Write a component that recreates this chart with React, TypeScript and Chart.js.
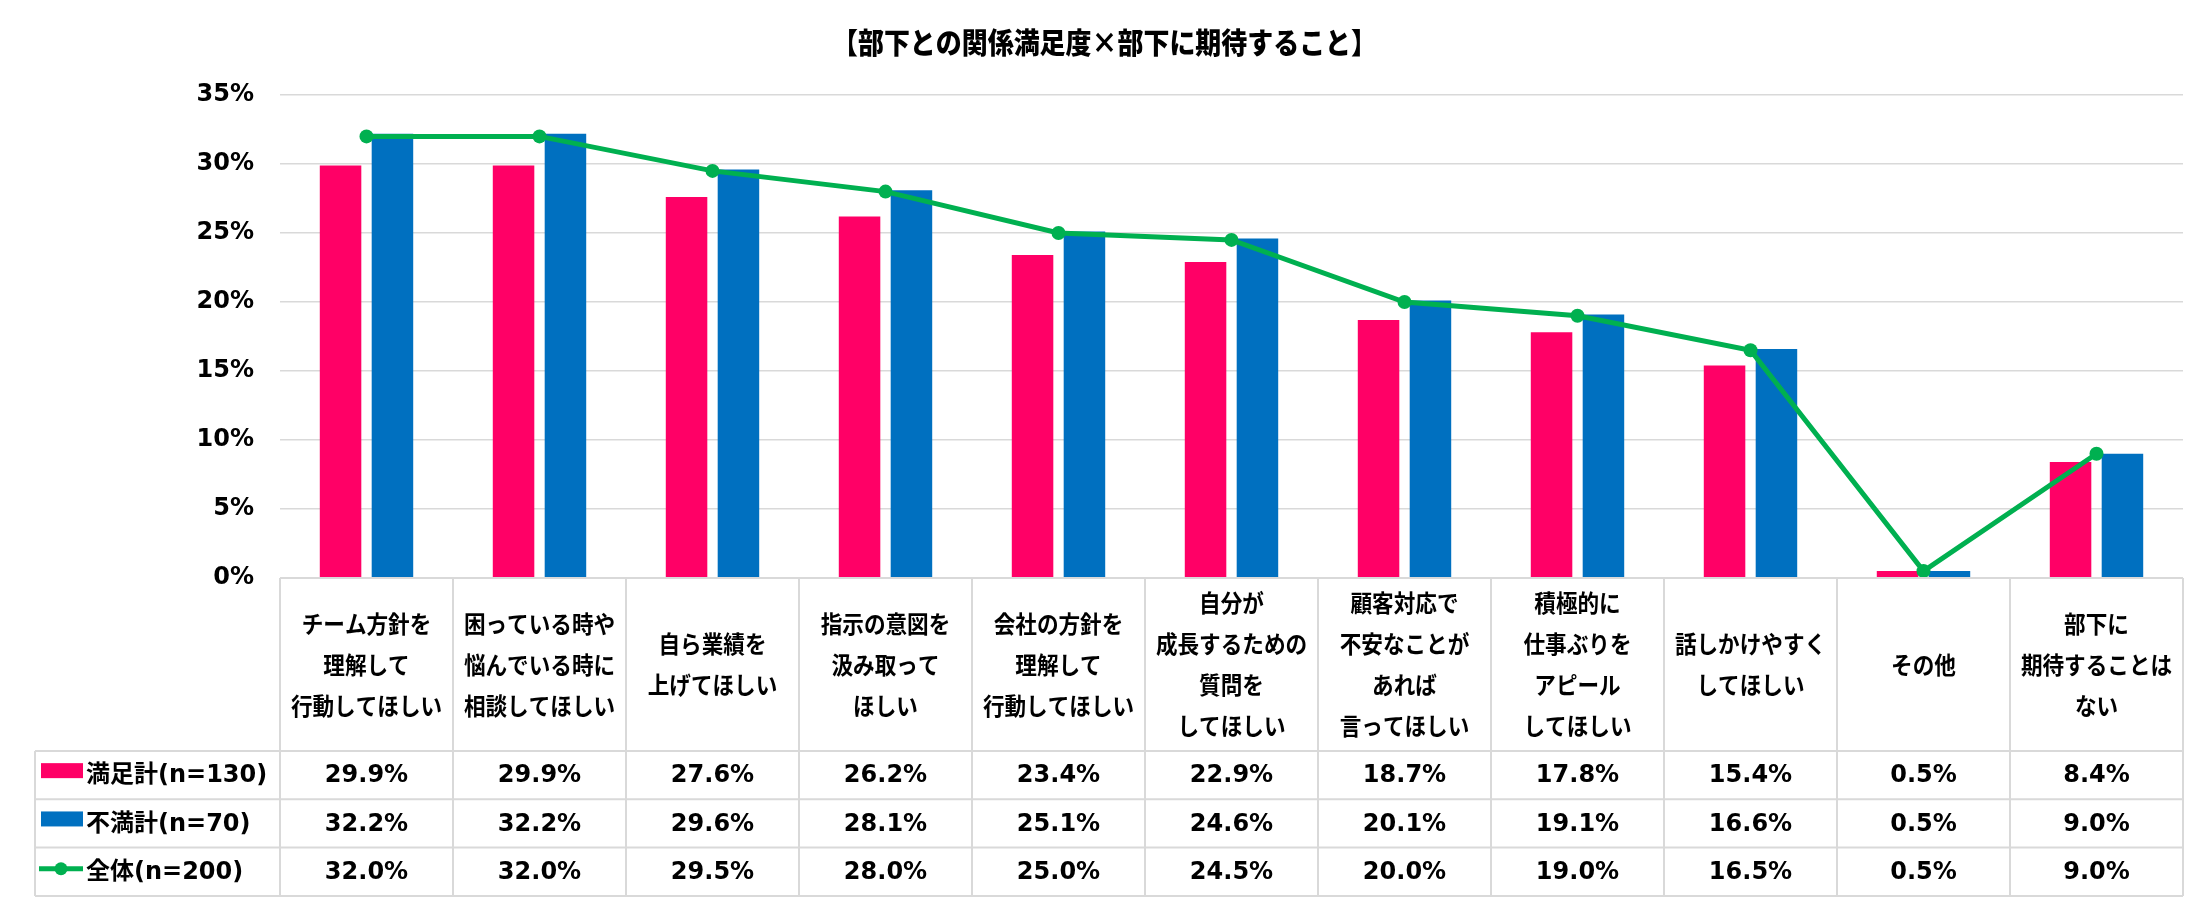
import React, { useEffect, useRef } from "react";
import { Chart, registerables } from "chart.js";

Chart.register(...registerables);

const TITLE = "【部下との関係満足度×部下に期待すること】";

const categories: string[][] = [
  ["チーム方針を", "理解して", "行動してほしい"],
  ["困っている時や", "悩んでいる時に", "相談してほしい"],
  ["自ら業績を", "上げてほしい"],
  ["指示の意図を", "汲み取って", "ほしい"],
  ["会社の方針を", "理解して", "行動してほしい"],
  ["自分が", "成長するための", "質問を", "してほしい"],
  ["顧客対応で", "不安なことが", "あれば", "言ってほしい"],
  ["積極的に", "仕事ぶりを", "アピール", "してほしい"],
  ["話しかけやすく", "してほしい"],
  ["その他"],
  ["部下に", "期待することは", "ない"],
];

const satisfied = [29.9, 29.9, 27.6, 26.2, 23.4, 22.9, 18.7, 17.8, 15.4, 0.5, 8.4];
const dissatisfied = [32.2, 32.2, 29.6, 28.1, 25.1, 24.6, 20.1, 19.1, 16.6, 0.5, 9.0];
const overall = [32.0, 32.0, 29.5, 28.0, 25.0, 24.5, 20.0, 19.0, 16.5, 0.5, 9.0];

const seriesNames = ["満足計(n=130)", "不満計(n=70)", "全体(n=200)"];
const yMin = 0;
const yMax = 35;
const yStep = 5;

const PINK = "#FF0066";
const BLUE = "#0070C0";
const GREEN = "#00B050";
const GRID = "#D9D9D9";

function fillScaled(
  ctx: CanvasRenderingContext2D,
  text: string,
  x: number,
  y: number,
  k: number,
  align: CanvasTextAlign
) {
  ctx.save();
  ctx.translate(x, y);
  ctx.scale(k, 1);
  ctx.textAlign = align;
  ctx.fillText(text, 0, 0);
  ctx.restore();
}

const tablePlugin = {
  id: "dataTable",
  afterDraw(chart: any) {
    const ctx = chart.ctx as CanvasRenderingContext2D;
    const xs = chart.scales.x;
    const area = chart.chartArea;
    const n = categories.length;
    const step = xs.getPixelForValue(1) - xs.getPixelForValue(0);
    const left = xs.getPixelForValue(0) - step / 2;
    const right = xs.getPixelForValue(n - 1) + step / 2;
    const top = area.bottom;
    const headerBottom = top + 173;
    const rowH = 48.3;
    const rowsY = [headerBottom, headerBottom + rowH, headerBottom + 2 * rowH, headerBottom + 3 * rowH];
    const legendLeft = 35;

    ctx.save();
    ctx.textBaseline = "middle";
    // title
    ctx.fillStyle = "#000";
    ctx.font = "900 29px 'Noto Sans CJK JP'";
    const tw = ctx.measureText(TITLE).width;
    fillScaled(ctx, TITLE, chart.width / 2, 43, 545 / tw, "center");

    // grid lines
    ctx.strokeStyle = GRID;
    ctx.lineWidth = 2;
    ctx.beginPath();
    ctx.moveTo(left, top);
    ctx.lineTo(right, top);
    for (let r = 0; r < rowsY.length; r++) {
      ctx.moveTo(legendLeft, rowsY[r]);
      ctx.lineTo(right, rowsY[r]);
    }
    for (let i = 0; i <= n; i++) {
      const x = left + i * step;
      ctx.moveTo(x, top);
      ctx.lineTo(x, rowsY[3]);
    }
    ctx.moveTo(legendLeft, rowsY[0]);
    ctx.lineTo(legendLeft, rowsY[3]);
    ctx.stroke();

    // header labels
    ctx.fillStyle = "#000";
    ctx.font = "bold 24px 'Noto Sans CJK JP'";
    const lh = 41;
    const hc = (top + headerBottom) / 2;
    categories.forEach((lines, i) => {
      const cx = xs.getPixelForValue(i);
      const y0 = hc - ((lines.length - 1) * lh) / 2;
      lines.forEach((t, j) => fillScaled(ctx, t, cx, y0 + j * lh, 0.9, "center"));
    });

    // values
    ctx.font = "bold 24px 'DejaVu Sans', 'Noto Sans CJK JP'";
    ctx.textAlign = "center";
    const all = [satisfied, dissatisfied, overall];
    all.forEach((arr, r) => {
      const cy = rowsY[r] + rowH / 2 + 1;
      arr.forEach((v, i) => {
        ctx.fillText(v.toFixed(1) + "%", xs.getPixelForValue(i), cy);
      });
    });

    // legend cells
    ctx.textAlign = "left";
    seriesNames.forEach((name, r) => {
      const cy = rowsY[r] + rowH / 2;
      if (r < 2) {
        ctx.fillStyle = r === 0 ? PINK : BLUE;
        ctx.fillRect(41, cy - 12, 42, 15);
      } else {
        ctx.strokeStyle = GREEN;
        ctx.lineWidth = 5;
        ctx.beginPath();
        ctx.moveTo(39, cy - 3);
        ctx.lineTo(83, cy - 3);
        ctx.stroke();
        ctx.fillStyle = GREEN;
        ctx.beginPath();
        ctx.arc(61, cy - 3, 6.5, 0, Math.PI * 2);
        ctx.fill();
      }
      ctx.fillStyle = "#000";
      ctx.fillText(name, 86, cy + 1);
    });
    ctx.restore();
  },
};

export default function App() {
  const ref = useRef<HTMLCanvasElement | null>(null);
  useEffect(() => {
    document.body.style.margin = "0";
    const canvas = ref.current!;
    const chart = new Chart(canvas, {
      type: "bar",
      data: {
        labels: categories.map((c) => c.join("")),
        datasets: [
          {
            type: "line",
            label: seriesNames[2],
            data: overall,
            borderColor: GREEN,
            backgroundColor: GREEN,
            borderWidth: 5,
            pointRadius: 7,
            pointBackgroundColor: GREEN,
            pointBorderWidth: 0,
            order: 0,
          } as any,
          {
            type: "bar",
            label: seriesNames[0],
            data: satisfied,
            backgroundColor: PINK,
            categoryPercentage: 0.6,
            barPercentage: 0.8,
            order: 1,
          },
          {
            type: "bar",
            label: seriesNames[1],
            data: dissatisfied,
            backgroundColor: BLUE,
            categoryPercentage: 0.6,
            barPercentage: 0.8,
            order: 1,
          },
        ],
      },
      options: {
        responsive: false,
        animation: false,
        devicePixelRatio: 1,
        layout: { padding: { left: 0, top: 95, right: 26, bottom: 328 } },
        plugins: { legend: { display: false }, title: { display: false }, tooltip: { enabled: false } },
        scales: {
          x: { display: false },
          y: {
            min: yMin,
            max: yMax,
            ticks: {
              stepSize: yStep,
              padding: 26,
              color: "#000",
              font: { family: "'DejaVu Sans'", weight: "bold", size: 24 },
              callback: (v: any) => v + "%",
            },
            grid: { color: GRID, lineWidth: 1.5, drawTicks: false },
            border: { display: false },
            afterFit: (s: any) => {
              s.width = 280;
              s.paddingTop = 0;
              s.paddingBottom = 0;
            },
          },
        },
      },
      plugins: [tablePlugin],
    });
    return () => chart.destroy();
  }, []);
  return (
    <div style={{ width: 2209, height: 906 }}>
      <canvas ref={ref} width={2209} height={906} style={{ display: "block" }} />
    </div>
  );
}
